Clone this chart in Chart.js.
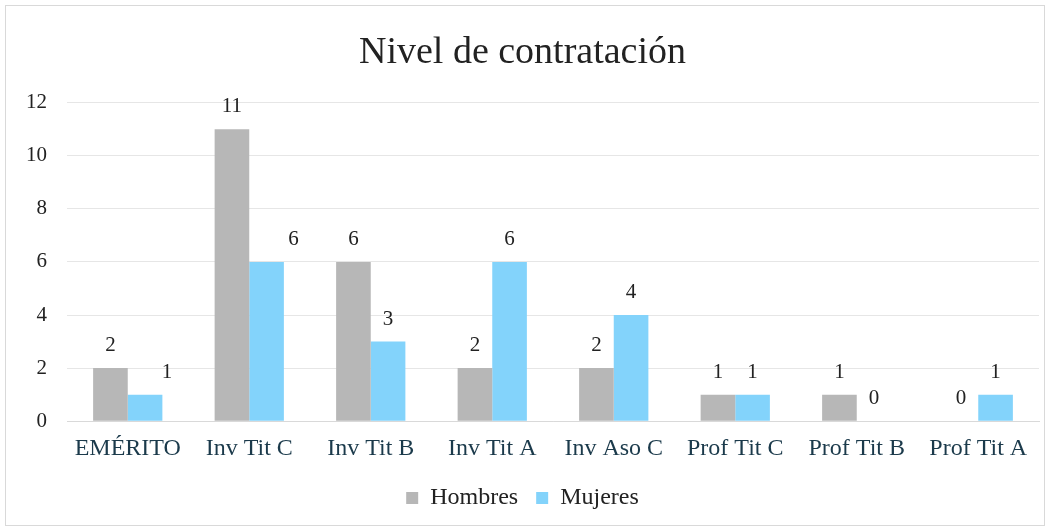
<!DOCTYPE html>
<html>
<head>
<meta charset="utf-8">
<script src="https://cdn.jsdelivr.net/npm/chart.js@4/dist/chart.umd.min.js"></script>
<style>
  body { margin: 0; background: #fff; }
  #wrap { position: absolute; left: 5px; top: 5px; width: 1038px; height: 519px; border: 1px solid #d9d9d9; }
</style>
</head>
<body>
<div id="wrap"><canvas id="chart"></canvas></div>
<script>
// categorías y valores
const categorias = ['EMÉRITO', 'Inv Tit C', 'Inv Tit B', 'Inv Tit A', 'Inv Aso C', 'Prof Tit C', 'Prof Tit B', 'Prof Tit A'];
const hombres = [2, 11, 6, 2, 2, 1, 1, 0];
const mujeres = [1, 6, 3, 6, 4, 1, 0, 1];
const yTicks = [0, 2, 4, 6, 8, 10, 12];

const SERIF = '"Liberation Serif", "Times New Roman", serif';

// etiquetas de valor encima de cada barra
const valueLabels = {
    id: 'valueLabels',
    afterDatasetsDraw(chart, args, opts) {
        const ctx = chart.ctx;
        ctx.save();
        ctx.font = '21px ' + SERIF;
        ctx.fillStyle = '#222';
        ctx.textAlign = 'center';
        ctx.textBaseline = 'bottom';
        chart.data.datasets.forEach((ds, di) => {
            const meta = chart.getDatasetMeta(di);
            meta.data.forEach((bar, i) => {
                const shift = (opts.shift[di] && opts.shift[di][i]) || 0;
                ctx.fillText(ds.data[i], bar.x + shift, bar.y - 12);
            });
        });
        ctx.restore();
    }
};

new Chart(document.getElementById('chart'), {
    type: 'bar',
    data: {
        labels: categorias,
        datasets: [
            { label: 'Hombres', data: hombres, backgroundColor: '#b7b7b7' },
            { label: 'Mujeres', data: mujeres, backgroundColor: '#83d3fb' }
        ]
    },
    options: {
        responsive: true,
        maintainAspectRatio: false,
        animation: false,
        categoryPercentage: 0.57,
        barPercentage: 1,
        layout: { padding: { left: 0, right: 5, top: 0, bottom: 5 } },
        plugins: {
            title: {
                display: true,
                text: 'Nivel de contratación',
                color: '#222',
                font: { family: SERIF, size: 38, weight: 'normal' },
                padding: { top: 24, bottom: 27 }
            },
            legend: {
                position: 'bottom',
                labels: {
                    boxWidth: 12,
                    boxHeight: 12,
                    padding: 18,
                    color: '#222',
                    font: { family: SERIF, size: 24 }
                }
            },
            tooltip: { enabled: false },
            valueLabels: { shift: [[], [22, 27]] }
        },
        scales: {
            x: {
                grid: { display: false },
                border: { color: '#d9d9d9' },
                ticks: { color: '#1b3a4b', font: { family: SERIF, size: 24 }, padding: 5 }
            },
            y: {
                min: 0,
                max: 12,
                afterBuildTicks: s => { s.ticks = yTicks.map(v => ({ value: v })); },
                afterFit: s => { s.width = 61; },
                grid: { color: '#e6e6e6', drawTicks: false },
                border: { display: false },
                ticks: { color: '#222', font: { family: SERIF, size: 21 }, padding: 20 }
            }
        }
    },
    plugins: [valueLabels]
});
</script>
</body>
</html>
